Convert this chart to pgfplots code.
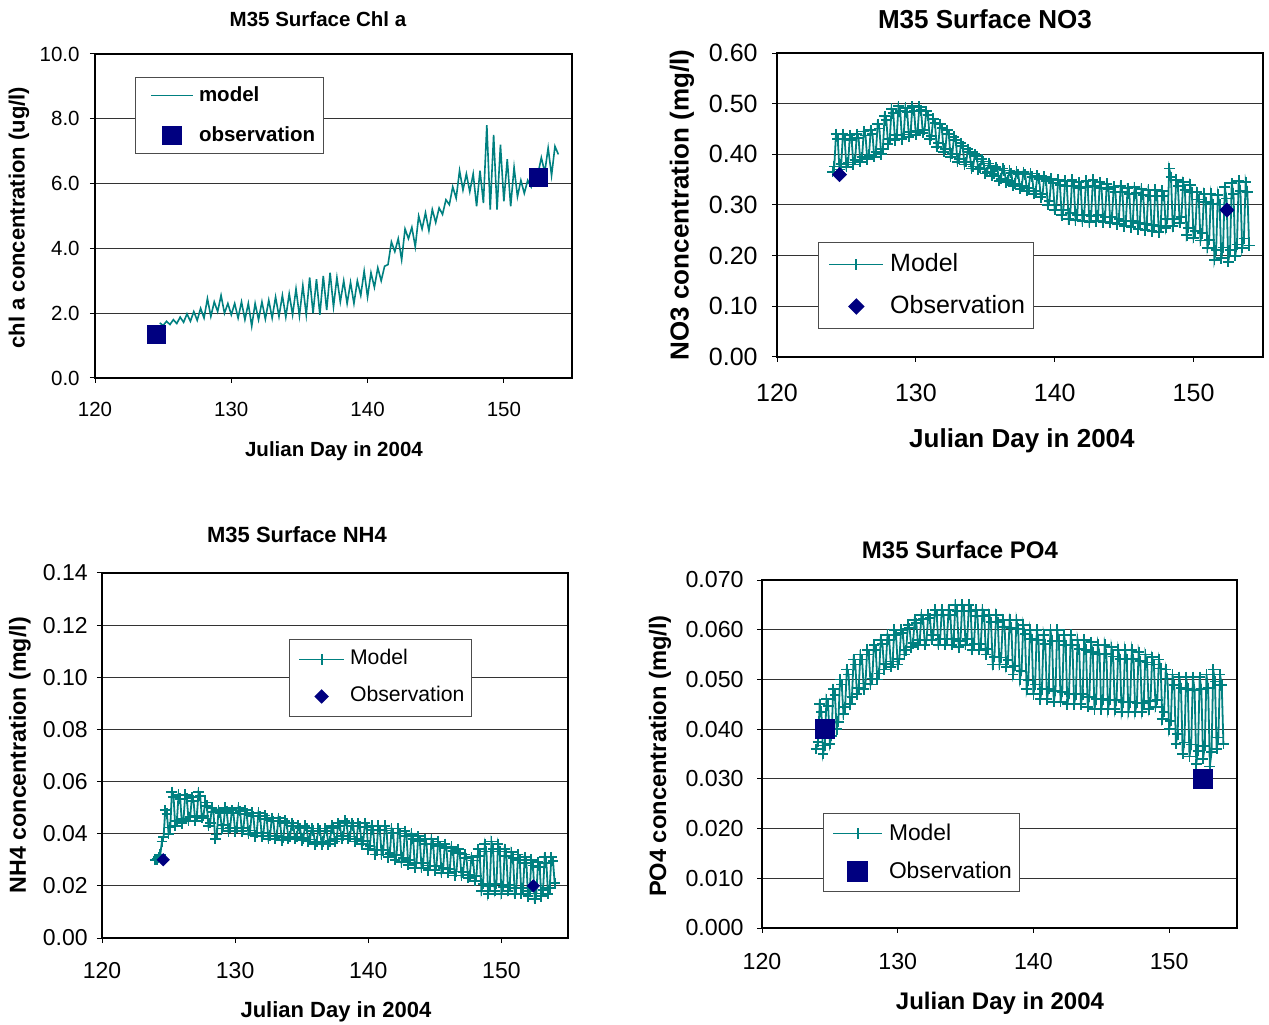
\documentclass[border=0pt]{standalone}
\usepackage{fontspec}
\setmainfont{Liberation Sans}
\usepackage{pgfplots}
\pgfplotsset{compat=1.18}
\definecolor{modelc}{RGB}{0,128,128}
\definecolor{obsc}{RGB}{0,0,128}
\newcommand{\fs}[1]{\fontsize{#1}{#1}\selectfont}
\pgfplotsset{
  panel/.style={
    scale only axis, anchor=south west,
    xmin=120, xmax=155, xtick={120,130,140,150},
    axis line style={line width=1.4bp, black},
    ymajorgrids, grid style={line width=0.5bp, black!80},
    tick align=outside, major tick length=2.5bp,
    tick style={line width=0.5bp, black},
    xtick pos=left, ytick pos=left,
    scaled y ticks=false,
    /pgf/number format/assume math mode=true,
    legend cell align=left,
    title style={anchor=center, inner sep=0pt, yshift=-6pt},
    xlabel style={anchor=center, inner sep=0pt},
    ylabel style={anchor=center, inner sep=0pt},
    xticklabel style={anchor=north, inner sep=0pt},
    yticklabel style={anchor=east, inner sep=0pt},
  },
  prec/.style={yticklabel style={/pgf/number format/fixed, /pgf/number format/fixed zerofill, /pgf/number format/precision=#1}},
  modelline/.style={color=modelc, line width=0.9bp, mark=+, mark size=2.7bp,
    mark options={line width=0.9bp, solid}},
}
\begin{document}
\begin{tikzpicture}
\useasboundingbox (0bp,0bp) rectangle (634.5bp,512.5bp);

% ---------------- Panel 1: Chl a
\begin{axis}[panel, at={(47.5bp,323.5bp)}, width=238.5bp, height=162bp,
  ymin=0, ymax=10, ytick={0,2,4,6,8,10}, prec=1,
  ticklabel style={font=\fs{10.25bp}},
  xticklabel style={yshift=-9.5bp},
  yticklabel style={xshift=-5bp},
  title={M35 Surface Chl a},
  title style={at={(axis description cs:0.4675,1.1065)}, font=\bfseries\fs{10.25bp}},
  xlabel={Julian Day in 2004},
  xlabel style={at={(axis description cs:0.501,-0.225)}, font=\bfseries\fs{10.25bp}},
  ylabel={chl a concentration (ug/l)},
  ylabel style={at={(axis description cs:-0.1593,0.495)}, font=\bfseries\fs{11bp}},
  legend style={at={(axis description cs:0.0839,0.929)}, anchor=north west,
    draw=black!70, inner xsep=4bp, inner ysep=4bp,
    row sep=10bp, column sep=2.5bp, font=\bfseries\fs{10.25bp},
    nodes={inner sep=0pt, text height=8bp, text depth=2bp}},
  legend image code/.code={\path (0bp,0bp); \draw[line width=0.8bp,mark repeat=2,mark phase=2] plot coordinates {(3.5bp,0bp)(14bp,0bp)(24.5bp,0bp)};},
]
\addplot[color=modelc, line width=0.8bp, mark=none] coordinates {
(124.75,1.70)
(125.00,1.62)(125.25,1.75)(125.50,1.65)(125.75,1.80)
(126.00,1.68)(126.25,1.88)(126.50,1.72)(126.75,1.98)
(127.00,1.75)(127.25,2.05)(127.50,1.78)(127.75,2.15)
(128.00,1.85)(128.25,2.45)(128.50,1.90)(128.75,2.35)
(129.00,2.05)(129.25,2.55)(129.50,2.00)(129.75,2.30)
(130.00,1.95)(130.25,2.30)(130.50,1.85)(130.75,2.35)
(131.00,1.80)(131.25,2.30)(131.50,1.60)(131.75,2.30)
(132.00,1.80)(132.25,2.35)(132.50,1.82)(132.75,2.40)
(133.00,1.85)(133.25,2.50)(133.50,1.90)(133.75,2.55)
(134.00,1.88)(134.25,2.60)(134.50,1.95)(134.75,2.75)
(135.00,1.92)(135.25,2.85)(135.50,1.95)(135.75,3.10)
(136.00,2.00)(136.25,3.05)(136.50,1.95)(136.75,3.15)
(137.00,2.10)(137.25,3.25)(137.50,2.20)(137.75,3.10)
(138.00,2.35)(138.25,3.00)(138.50,2.30)(138.75,2.95)
(139.00,2.30)(139.25,3.00)(139.50,2.55)(139.75,3.30)
(140.00,2.50)(140.25,3.25)(140.50,2.80)(140.75,3.40)
(141.00,3.00)(141.25,3.45)(141.50,3.50)(141.75,4.20)
(142.00,3.90)(142.25,4.30)(142.50,3.65)(142.75,4.60)
(143.00,4.30)(143.25,4.65)(143.50,4.05)(143.75,5.00)
(144.00,4.60)(144.25,5.10)(144.50,4.55)(144.75,5.20)
(145.00,4.80)(145.25,5.25)(145.50,5.05)(145.75,5.50)
(146.00,5.35)(146.25,5.90)(146.50,5.55)(146.75,6.40)
(147.00,5.80)(147.25,6.30)(147.50,5.75)(147.75,6.30)
(148.00,5.30)(148.25,6.40)(148.50,5.40)(148.75,7.80)
(149.00,5.20)(149.25,7.50)(149.50,5.20)(149.75,7.20)
(150.00,5.45)(150.25,6.75)(150.50,5.30)(150.75,6.50)
(151.00,5.60)(151.25,6.10)(151.50,5.70)(151.75,6.10)
(152.00,5.90)(152.25,6.40)(152.50,6.30)(152.75,6.80)
(153.00,6.35)(153.25,7.10)(153.50,6.25)(153.75,7.15)
(154.00,6.90)
};
\addlegendentry{model}
\addplot[only marks, mark=square*, mark size=4.5bp, color=obsc] coordinates {(124.5,1.35)(152.5,6.2)};
\addlegendentry{observation}
\end{axis}

% ---------------- Panel 2: NO3
\begin{axis}[panel, at={(388.5bp,334bp)}, width=243bp, height=152bp,
  ymin=0, ymax=0.6, ytick={0,0.1,0.2,0.3,0.4,0.5,0.6}, prec=2,
  ticklabel style={font=\fs{12.5bp}},
  xticklabel style={yshift=-11bp},
  yticklabel style={xshift=-7bp},
  title={M35 Surface NO3},
  title style={at={(axis description cs:0.428,1.110)}, font=\bfseries\fs{13bp}},
  xlabel={Julian Day in 2004},
  xlabel style={at={(axis description cs:0.504,-0.276)}, font=\bfseries\fs{13bp}},
  ylabel={NO3 concentration (mg/l)},
  ylabel style={at={(axis description cs:-0.1955,0.5)}, font=\bfseries\fs{13bp}},
  legend style={at={(axis description cs:0.0844,0.378)}, anchor=north west,
    draw=black!70, inner xsep=4bp, inner ysep=5bp,
    row sep=9bp, column sep=3bp, font=\fs{12.5bp},
    nodes={inner sep=0pt, text height=9.5bp, text depth=2.5bp}},
  legend image code/.code={\path (0bp,0bp); \draw[line width=0.9bp,mark repeat=2,mark phase=2] plot coordinates {(1bp,0bp)(14.5bp,0bp)(28bp,0bp)};},
]
\addplot[modelline] table {
124.000 .365
124.125 .376
124.250 .440
124.375 .430
124.500 .370
124.625 .381
124.750 .440
124.875 .430
125.000 .375
125.125 .384
125.250 .438
125.375 .429
125.500 .380
125.625 .389
125.750 .440
125.875 .432
126.000 .385
126.125 .394
126.250 .445
126.375 .437
126.500 .390
126.625 .399
126.750 .448
126.875 .440
127.000 .395
127.125 .405
127.250 .460
127.375 .451
127.500 .400
127.625 .411
127.750 .475
127.875 .467
128.000 .420
128.125 .431
128.250 .490
128.375 .481
128.500 .428
128.625 .438
128.750 .495
128.875 .485
129.000 .430
129.125 .439
129.250 .492
129.375 .483
129.500 .435
129.625 .444
129.750 .495
129.875 .486
130.000 .438
130.125 .446
130.250 .494
130.375 .487
130.500 .442
130.625 .448
130.750 .485
130.875 .477
131.000 .430
131.125 .436
131.250 .470
131.375 .462
131.500 .415
131.625 .422
131.750 .460
131.875 .452
132.000 .405
132.125 .411
132.250 .448
132.375 .440
132.500 .395
132.625 .401
132.750 .435
132.875 .428
133.000 .385
133.125 .391
133.250 .422
133.375 .416
133.500 .380
133.625 .385
133.750 .410
133.875 .404
134.000 .372
134.125 .376
134.250 .400
134.375 .396
134.500 .370
134.625 .373
134.750 .390
134.875 .386
135.000 .362
135.125 .365
135.250 .382
135.375 .378
135.500 .358
135.625 .361
135.750 .375
135.875 .371
136.000 .348
136.125 .352
136.250 .372
136.375 .368
136.500 .345
136.625 .349
136.750 .368
136.875 .363
137.000 .338
137.125 .342
137.250 .366
137.375 .361
137.500 .332
137.625 .337
137.750 .365
137.875 .360
138.000 .328
138.125 .333
138.250 .362
138.375 .356
138.500 .322
138.625 .327
138.750 .358
138.875 .352
139.000 .315
139.125 .321
139.250 .356
139.375 .348
139.500 .300
139.625 .308
139.750 .352
139.875 .343
140.000 .290
140.125 .299
140.250 .350
140.375 .340
140.500 .280
140.625 .290
140.750 .348
140.875 .337
141.000 .272
141.125 .284
141.250 .350
141.375 .338
141.500 .270
141.625 .281
141.750 .345
141.875 .333
142.000 .268
142.125 .280
142.250 .348
142.375 .336
142.500 .266
142.625 .279
142.750 .350
142.875 .337
143.000 .268
143.125 .280
143.250 .345
143.375 .333
143.500 .266
143.625 .277
143.750 .342
143.875 .331
144.000 .265
144.125 .276
144.250 .336
144.375 .325
144.500 .262
144.625 .273
144.750 .338
144.875 .326
145.000 .258
145.125 .269
145.250 .333
145.375 .322
145.500 .256
145.625 .268
145.750 .335
145.875 .323
146.000 .252
146.125 .264
146.250 .332
146.375 .320
146.500 .250
146.625 .262
146.750 .330
146.875 .318
147.000 .248
147.125 .260
147.250 .330
147.375 .318
147.500 .246
147.625 .258
147.750 .328
147.875 .318
148.000 .255
148.125 .273
148.250 .372
148.375 .355
148.500 .258
148.625 .272
148.750 .350
148.875 .337
149.000 .265
149.125 .277
149.250 .345
149.375 .330
149.500 .240
149.625 .255
149.750 .340
149.875 .325
150.000 .235
150.125 .248
150.250 .325
150.375 .311
150.500 .230
150.625 .244
150.750 .322
150.875 .306
151.000 .215
151.125 .231
151.250 .322
151.375 .302
151.500 .192
151.625 .211
151.750 .320
151.875 .301
152.000 .195
152.125 .216
152.250 .335
152.375 .313
152.500 .188
152.625 .211
152.750 .343
152.875 .322
153.000 .200
153.125 .222
153.250 .348
153.375 .328
153.500 .215
153.625 .234
153.750 .345
153.875 .326
154.000 .220
};
\addlegendentry{Model}
\addplot[only marks, mark=diamond*, mark size=3.5bp, color=obsc, mark options={xscale=1.33}] coordinates {(124.5,0.36)(152.4,0.29)};
\addlegendentry{Observation}
\end{axis}

% ---------------- Panel 3: NH4
\begin{axis}[panel, at={(51bp,43.5bp)}, width=233bp, height=182.5bp,
  ymin=0, ymax=0.14, ytick={0,0.02,0.04,0.06,0.08,0.10,0.12,0.14}, prec=2,
  ticklabel style={font=\fs{11.5bp}},
  xticklabel style={yshift=-9.5bp},
  yticklabel style={xshift=-4.5bp},
  title={M35 Surface NH4},
  title style={at={(axis description cs:0.4185,1.104)}, font=\bfseries\fs{11bp}},
  xlabel={Julian Day in 2004},
  xlabel style={at={(axis description cs:0.502,-0.2027)}, font=\bfseries\fs{11bp}},
  ylabel={NH4 concentration (mg/l)},
  ylabel style={at={(axis description cs:-0.176,0.501)}, font=\bfseries\fs{11.6bp}},
  legend style={at={(axis description cs:0.401,0.819)}, anchor=north west,
    draw=black!70, inner xsep=3.5bp, inner ysep=5.25bp,
    row sep=9bp, column sep=2.5bp, font=\fs{10.6bp},
    nodes={inner sep=0pt, text height=7.5bp, text depth=2bp}},
  legend image code/.code={\path (0bp,0bp); \draw[line width=0.9bp,mark repeat=2,mark phase=2] plot coordinates {(1bp,0bp)(12.25bp,0bp)(23.5bp,0bp)};},
]
\addplot[modelline] table {
124.000 .030
124.125 .0302
124.250 .031
124.375 .0319
124.500 .037
124.625 .0388
124.750 .049
124.875 .0477
125.000 .040
125.125 .0424
125.250 .056
125.375 .0541
125.500 .043
125.625 .0448
125.750 .055
125.875 .0534
126.000 .044
126.125 .0457
126.250 .055
126.375 .0535
126.500 .045
126.625 .0464
126.750 .054
126.875 .0527
127.000 .045
127.125 .0467
127.250 .056
127.375 .0545
127.500 .046
127.625 .0469
127.750 .052
127.875 .0507
128.000 .043
128.125 .0441
128.250 .050
128.375 .0482
128.500 .038
128.625 .0397
128.750 .049
128.875 .0480
129.000 .042
129.125 .0432
129.250 .050
129.375 .0487
129.500 .041
129.625 .0422
129.750 .049
129.875 .0478
130.000 .041
130.125 .0424
130.250 .050
130.375 .0487
130.500 .041
130.625 .0422
130.750 .049
130.875 .0477
131.000 .040
131.125 .0412
131.250 .048
131.375 .0467
131.500 .039
131.625 .0404
131.750 .048
131.875 .0467
132.000 .039
132.125 .0402
132.250 .047
132.375 .0457
132.500 .038
132.625 .0392
132.750 .046
132.875 .0448
133.000 .038
133.125 .0392
133.250 .046
133.375 .0447
133.500 .0375
133.625 .0386
133.750 .045
133.875 .0440
134.000 .038
134.125 .0389
134.250 .044
134.375 .0431
134.500 .038
134.625 .0388
134.750 .043
134.875 .0422
135.000 .0375
135.125 .0383
135.250 .043
135.375 .0421
135.500 .037
135.625 .0378
135.750 .042
135.875 .0411
136.000 .036
136.125 .0369
136.250 .042
136.375 .0411
136.500 .036
136.625 .0369
136.750 .042
136.875 .0411
137.000 .036
137.125 .0371
137.250 .043
137.375 .0421
137.500 .037
137.625 .0381
137.750 .044
137.875 .0431
138.000 .038
138.125 .0391
138.250 .045
138.375 .0440
138.500 .038
138.625 .0389
138.750 .044
138.875 .0430
139.000 .037
139.125 .0381
139.250 .044
139.375 .0428
139.500 .036
139.625 .0372
139.750 .044
139.875 .0425
140.000 .034
140.125 .0354
140.250 .043
140.375 .0414
140.500 .032
140.625 .0337
140.750 .043
140.875 .0414
141.000 .032
141.125 .0337
141.250 .043
141.375 .0412
141.500 .031
141.625 .0327
141.750 .042
141.875 .0402
142.000 .030
142.125 .0318
142.250 .042
142.375 .0401
142.500 .029
142.625 .0308
142.750 .041
142.875 .0391
143.000 .028
143.125 .0298
143.250 .040
143.375 .0381
143.500 .027
143.625 .0288
143.750 .039
143.875 .0372
144.000 .027
144.125 .0287
144.250 .038
144.375 .0362
144.500 .026
144.625 .0278
144.750 .038
144.875 .0362
145.000 .026
145.125 .0277
145.250 .037
145.375 .0352
145.500 .025
145.625 .0267
145.750 .036
145.875 .0344
146.000 .025
146.125 .0265
146.250 .035
146.375 .0334
146.500 .024
146.625 .0255
146.750 .034
146.875 .0325
147.000 .024
147.125 .0252
147.250 .032
147.375 .0307
147.500 .023
147.625 .0242
147.750 .031
147.875 .0297
148.000 .022
148.125 .0238
148.250 .034
148.375 .0316
148.500 .018
148.625 .0207
148.750 .036
148.875 .0332
149.000 .017
149.125 .0200
149.250 .037
149.375 .0342
149.500 .018
149.625 .0207
149.750 .036
149.875 .0332
150.000 .017
150.125 .0196
150.250 .034
150.375 .0316
150.500 .018
150.625 .0203
150.750 .033
150.875 .0306
151.000 .017
151.125 .0193
151.250 .032
151.375 .0298
151.500 .017
151.625 .0191
151.750 .031
151.875 .0288
152.000 .016
152.125 .0181
152.250 .030
152.375 .0278
152.500 .015
152.625 .0171
152.750 .029
152.875 .0271
153.000 .016
153.125 .0183
153.250 .031
153.375 .0289
153.500 .017
153.625 .0191
153.750 .031
153.875 .0295
154.000 .021
};
\addlegendentry{Model}
\addplot[only marks, mark=diamond*, mark size=3bp, color=obsc, mark options={xscale=1.33}] coordinates {(124.6,0.030)(152.4,0.020)};
\addlegendentry{Observation}
\end{axis}

% ---------------- Panel 4: PO4
\begin{axis}[panel, at={(381bp,48.5bp)}, width=237.5bp, height=174bp,
  ymin=0, ymax=0.07, ytick={0,0.01,0.02,0.03,0.04,0.05,0.06,0.07}, prec=3,
  ticklabel style={font=\fs{11.6bp}},
  xticklabel style={yshift=-10bp},
  yticklabel style={xshift=-6.5bp},
  title={M35 Surface PO4},
  title style={at={(axis description cs:0.4168,1.0862)}, font=\bfseries\fs{12bp}},
  xlabel={Julian Day in 2004},
  xlabel style={at={(axis description cs:0.501,-0.2155)}, font=\bfseries\fs{12bp}},
  ylabel={PO4 concentration (mg/l)},
  ylabel style={at={(axis description cs:-0.2147,0.494)}, font=\bfseries\fs{11.85bp}},
  legend style={at={(axis description cs:0.128,0.330)}, anchor=north west,
    draw=black!70, inner xsep=3.5bp, inner ysep=4.75bp,
    row sep=8.5bp, column sep=3bp, font=\fs{11.4bp},
    nodes={inner sep=0pt, text height=8.5bp, text depth=2bp}},
  legend image code/.code={\path (0bp,0bp); \draw[line width=0.9bp,mark repeat=2,mark phase=2] plot coordinates {(1bp,0bp)(13.25bp,0bp)(25.5bp,0bp)};},
]
\addplot[modelline] table {
124.000 .036
124.125 .0374
124.250 .045
124.375 .0435
124.500 .035
124.625 .0367
124.750 .046
124.875 .0447
125.000 .037
125.125 .0387
125.250 .048
125.375 .0468
125.500 .040
125.625 .0415
125.750 .050
125.875 .0490
126.000 .043
126.125 .0444
126.250 .052
126.375 .0510
126.500 .045
126.625 .0464
126.750 .054
126.875 .0530
127.000 .047
127.125 .0482
127.250 .055
127.375 .0540
127.500 .048
127.625 .0492
127.750 .056
127.875 .0550
128.000 .049
128.125 .0502
128.250 .057
128.375 .0560
128.500 .050
128.625 .0512
128.750 .058
128.875 .0571
129.000 .052
129.125 .0531
129.250 .059
129.375 .0580
129.500 .0525
129.625 .0536
129.750 .060
129.875 .0590
130.000 .053
130.125 .0541
130.250 .060
130.375 .0593
130.500 .055
130.625 .0559
130.750 .061
130.875 .0603
131.000 .0565
131.125 .0573
131.250 .062
131.375 .0613
131.500 .057
131.625 .0579
131.750 .063
131.875 .0621
132.000 .057
132.125 .0579
132.250 .063
132.375 .0623
132.500 .058
132.625 .0589
132.750 .064
132.875 .0630
133.000 .057
133.125 .0581
133.250 .064
133.375 .0630
133.500 .057
133.625 .0581
133.750 .064
133.875 .0630
134.000 .057
134.125 .0582
134.250 .065
134.375 .0637
134.500 .0565
134.625 .0578
134.750 .065
134.875 .0638
135.000 .057
135.125 .0582
135.250 .065
135.375 .0637
135.500 .056
135.625 .0572
135.750 .064
135.875 .0628
136.000 .056
136.125 .0572
136.250 .064
136.375 .0627
136.500 .055
136.625 .0562
136.750 .063
136.875 .0615
137.000 .053
137.125 .0545
137.250 .063
137.375 .0615
137.500 .053
137.625 .0544
137.750 .062
137.875 .0606
138.000 .0525
138.125 .0539
138.250 .062
138.375 .0604
138.500 .051
138.625 .0527
138.750 .062
138.875 .0602
139.000 .050
139.125 .0517
139.250 .061
139.375 .0591
139.500 .048
139.625 .0498
139.750 .060
139.875 .0581
140.000 .047
140.125 .0490
140.250 .060
140.375 .0579
140.500 .046
140.625 .0480
140.750 .059
140.875 .0571
141.000 .046
141.125 .0481
141.250 .060
141.375 .0578
141.500 .0455
141.625 .0477
141.750 .060
141.875 .0578
142.000 .0455
142.125 .0475
142.250 .059
142.375 .0569
142.500 .045
142.625 .0471
142.750 .059
142.875 .0569
143.000 .045
143.125 .0470
143.250 .058
143.375 .0561
143.500 .045
143.625 .0470
143.750 .058
143.875 .0560
144.000 .0445
144.125 .0465
144.250 .0575
144.375 .0555
144.500 .044
144.625 .0460
144.750 .057
144.875 .0551
145.000 .044
145.125 .0460
145.250 .057
145.375 .0551
145.500 .044
145.625 .0459
145.750 .0565
145.875 .0546
146.000 .044
146.125 .0458
146.250 .056
146.375 .0541
146.500 .0435
146.625 .0454
146.750 .056
146.875 .0541
147.000 .0435
147.125 .0454
147.250 .056
147.375 .0541
147.500 .0435
147.625 .0453
147.750 .0555
147.875 .0537
148.000 .0435
148.125 .0452
148.250 .055
148.375 .0534
148.500 .044
148.625 .0456
148.750 .0545
148.875 .0530
149.000 .0445
149.125 .0459
149.250 .054
149.375 .0522
149.500 .042
149.625 .0435
149.750 .052
149.875 .0502
150.000 .040
150.125 .0417
150.250 .051
150.375 .0489
150.500 .037
150.625 .0390
150.750 .0505
150.875 .0482
151.000 .035
151.125 .0373
151.250 .0505
151.375 .0481
151.500 .0345
151.625 .0369
151.750 .0505
151.875 .0479
152.000 .033
152.125 .0356
152.250 .0505
152.375 .0480
152.500 .034
152.625 .0366
152.750 .051
152.875 .0482
153.000 .0325
153.125 .0354
153.250 .052
153.375 .0496
153.500 .036
153.625 .0383
153.750 .051
153.875 .0489
154.000 .037
};
\addlegendentry{Model}
\addplot[only marks, mark=square*, mark size=4.75bp, color=obsc] coordinates {(124.6,0.040)(152.5,0.030)};
\addlegendentry{Observation}
\end{axis}
\end{tikzpicture}
\end{document}
